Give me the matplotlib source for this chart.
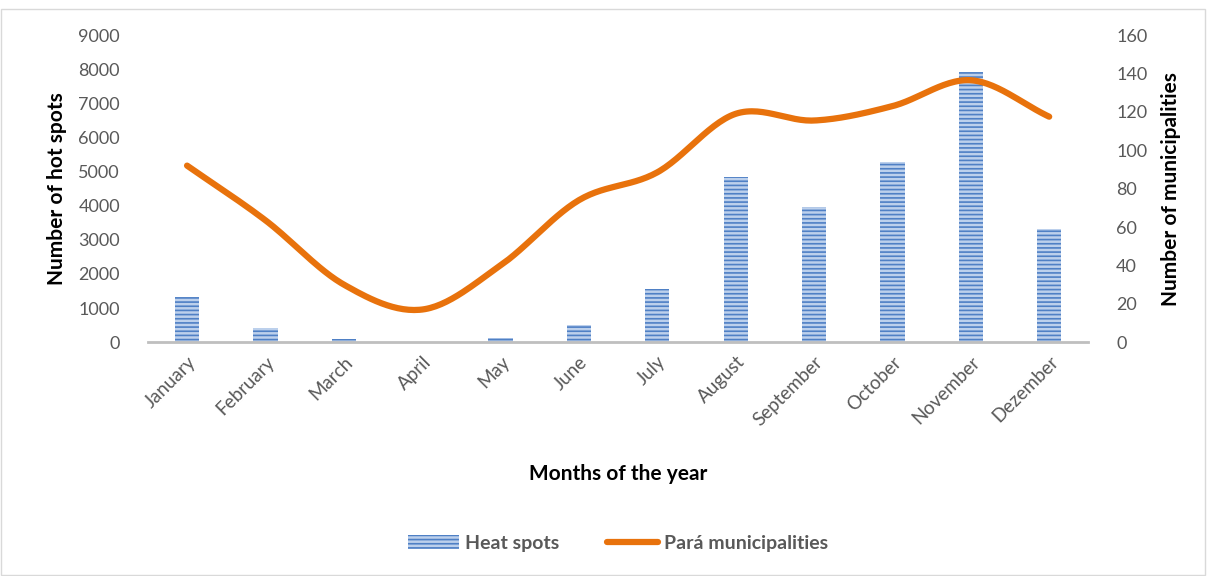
"""Monthly hot spots and Pará municipalities, bar + smoothed line."""

import numpy as np
import matplotlib.pyplot as plt
from matplotlib.patches import Rectangle
from matplotlib.lines import Line2D

months = ["January", "February", "March", "April", "May", "June", "July",
          "August", "September", "October", "November", "Dezember"]
hot_spots = [1320, 410, 80, 0, 130, 500, 1550, 4840, 3960, 5280, 7920, 3310]
municipalities = [92, 63.5, 30, 17, 40, 74, 88.5, 119, 115.5, 123, 136.5, 117.5]

plt.rcParams["font.family"] = ["Lato", "DejaVu Sans"]
plt.rcParams["hatch.linewidth"] = 1.2


def smooth(x, y, n=30):
    """Catmull-Rom style curve through the points, like Excel's smoothed line."""
    x = np.asarray(x, float)
    y = np.asarray(y, float)
    px = np.concatenate([[2 * x[0] - x[1]], x, [2 * x[-1] - x[-2]]])
    py = np.concatenate([[2 * y[0] - y[1]], y, [2 * y[-1] - y[-2]]])
    xs, ys = [], []
    t = np.linspace(0, 1, n)
    for i in range(1, len(px) - 2):
        for p, out in ((px, xs), (py, ys)):
            p0, p1, p2, p3 = p[i - 1], p[i], p[i + 1], p[i + 2]
            c1 = p1 + (p2 - p0) / 6
            c2 = p2 - (p3 - p1) / 6
            out.extend((1 - t) ** 3 * p1 + 3 * (1 - t) ** 2 * t * c1
                       + 3 * (1 - t) * t ** 2 * c2 + t ** 3 * p2)
    return np.array(xs), np.array(ys)


fig = plt.figure(figsize=(12.12, 5.76), dpi=100)
ax = fig.add_axes([0.122, 0.406, 0.776, 0.533])
ax2 = ax.twinx()

x = np.arange(len(months))
bar_style = dict(facecolor="#bcd0ec", edgecolor="#4f80c5", hatch="----", linewidth=0)
ax.bar(x, hot_spots, 0.31, zorder=2, **bar_style)

sx, sy = smooth(x, municipalities)
ax2.plot(sx, sy, color="#e8720c", lw=4.5, solid_capstyle="round", zorder=3)

ax.set_xlim(-0.5, len(months) - 0.5)
ax.set_ylim(0, 9000)
ax.set_yticks(range(0, 9001, 1000))
ax2.set_ylim(0, 160)
ax2.set_yticks(range(0, 161, 20))

for a in (ax, ax2):
    for s in a.spines.values():
        s.set_visible(False)
    a.tick_params(length=0, labelsize=13, labelcolor="#595959")
ax.spines["bottom"].set_visible(True)
ax.spines["bottom"].set_color("#bfbfbf")
ax.spines["bottom"].set_linewidth(2)
ax.tick_params(axis="y", pad=20)
ax2.tick_params(axis="y", pad=20)
ax.tick_params(axis="x", pad=8, labelsize=13.5)

ax.set_xticks(x)
ax.set_xticklabels(months, rotation=45, ha="right", rotation_mode="anchor")

ax.set_ylabel("Number of hot spots", fontsize=15, fontweight="bold", labelpad=8)
ax2.set_ylabel("Number of municipalities", fontsize=15, fontweight="bold", labelpad=10)
fig.text(0.51, 0.177, "Months of the year", fontsize=15, fontweight="bold",
         ha="center", va="center")

handles = [Rectangle((0, 0), 1, 1, **bar_style),
           Line2D([], [], color="#e8720c", lw=4.5, solid_capstyle="round")]
leg = fig.legend(handles, ["Heat spots", "Pará municipalities"],
                 loc="center", bbox_to_anchor=(0.51, 0.057), ncol=2, frameon=False,
                 prop={"size": 14, "weight": "bold"}, handlelength=2.6,
                 columnspacing=2.5, handletextpad=0.3)
for t in leg.get_texts():
    t.set_color("#595959")

fig.patches.append(Rectangle((0.001, 0.002), 0.993, 0.983, transform=fig.transFigure,
                             fill=False, edgecolor="#d9d9d9", lw=1))

fig.savefig("out.png", dpi=100)
